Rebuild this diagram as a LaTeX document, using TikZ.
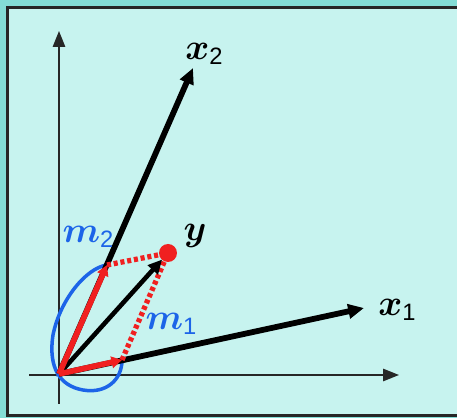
\documentclass[tikz,border=0pt]{standalone}
\usepackage{amsmath,amssymb,bm}
\usepackage{fontspec}
\newfontfamily\subf{Liberation Sans}
\usetikzlibrary{arrows.meta}
\definecolor{outerbg}{HTML}{84DDD6}
\definecolor{innerbg}{HTML}{C7F3EF}
\definecolor{vred}{HTML}{F02020}
\definecolor{vblue}{HTML}{1C64E8}
\tikzset{
  axis/.style={line width=0.9pt,draw=black!85,-{Triangle[length=9pt,width=7pt]}},
  vecblk/.style={line width=3.3pt,-{Triangle[length=9pt,width=8pt]}},
  vecred/.style={line width=3.2pt,vred,-{Triangle[length=6pt,width=6.5pt]}},
  dashred/.style={line width=3pt,vred,dash pattern=on 2.3pt off 1.6pt},
  loopblue/.style={line width=2pt,vblue},
  lbl/.style={inner sep=0pt,font=\fontsize{22}{24}\selectfont},
  lblb/.style={inner sep=0pt,text=vblue,font=\fontsize{22}{24}\selectfont}
}
\newcommand{\subsc}[1]{{\subf\fontsize{13.5}{14}\selectfont\raisebox{-3pt}{#1}}}
\begin{document}
\begin{tikzpicture}[x=0.02cm,y=-0.02cm]
\useasboundingbox (0,0) rectangle (457,418);
\fill[outerbg] (0,0) rectangle (457,418);
\filldraw[fill=innerbg,draw=black!85,line width=1.2pt] (7.5,7.5) rectangle (470,415.5);
% points
\coordinate (O) at (59,374);
\coordinate (X1) at (364,308);
\coordinate (X2) at (193,68);
\coordinate (Y) at (168,253);
\coordinate (M1) at (122,360);
\coordinate (M2) at (107,265);
\coordinate (HS) at (59,404);
\coordinate (HT) at (59,31);
\coordinate (VS) at (29,375);
\coordinate (VT) at (399,375);
% axes
\draw[axis] (HS) -- (HT);
\draw[axis] (VS) -- (VT);
% blue loop
\draw[loopblue] (M2) .. controls (86,268) and (60,300) .. (53,335)
  .. controls (48,368) and (60,386) .. (83,390)
  .. controls (106,394) and (122,380) .. (M1) -- (O) -- cycle;
% black vectors
\draw[vecblk] (O) -- (X1);
\draw[vecblk] (O) -- (X2);
% dashed projections
\draw[dashred] (M2) -- (Y);
\draw[dashred] (M1) -- (Y);
% y vector
\draw[line width=2.6pt,-{Triangle[length=8pt,width=7.5pt]},shorten >=5pt] (O) -- (Y);
\node[circle,fill=vred,inner sep=0pt,minimum size=0.36cm] (Ydot) at (Y) {};
% red components
\draw[vecred] (O) -- (M1);
\draw[vecred] (O) -- (M2);
% labels
\node[lbl] (lx2) at (204,54) {$\boldsymbol{x}$\subsc{2}};
\node[lbl] (lx1) at (397,310) {$\boldsymbol{x}$\subsc{1}};
\node[lbl] (ly) at (195,236) {$\boldsymbol{y}$};
\node[lblb] (lm2) at (88,237) {$\boldsymbol{m}$\subsc{2}};
\node[lblb] (lm1) at (171,324) {$\boldsymbol{m}$\subsc{1}};
\end{tikzpicture}
\end{document}
